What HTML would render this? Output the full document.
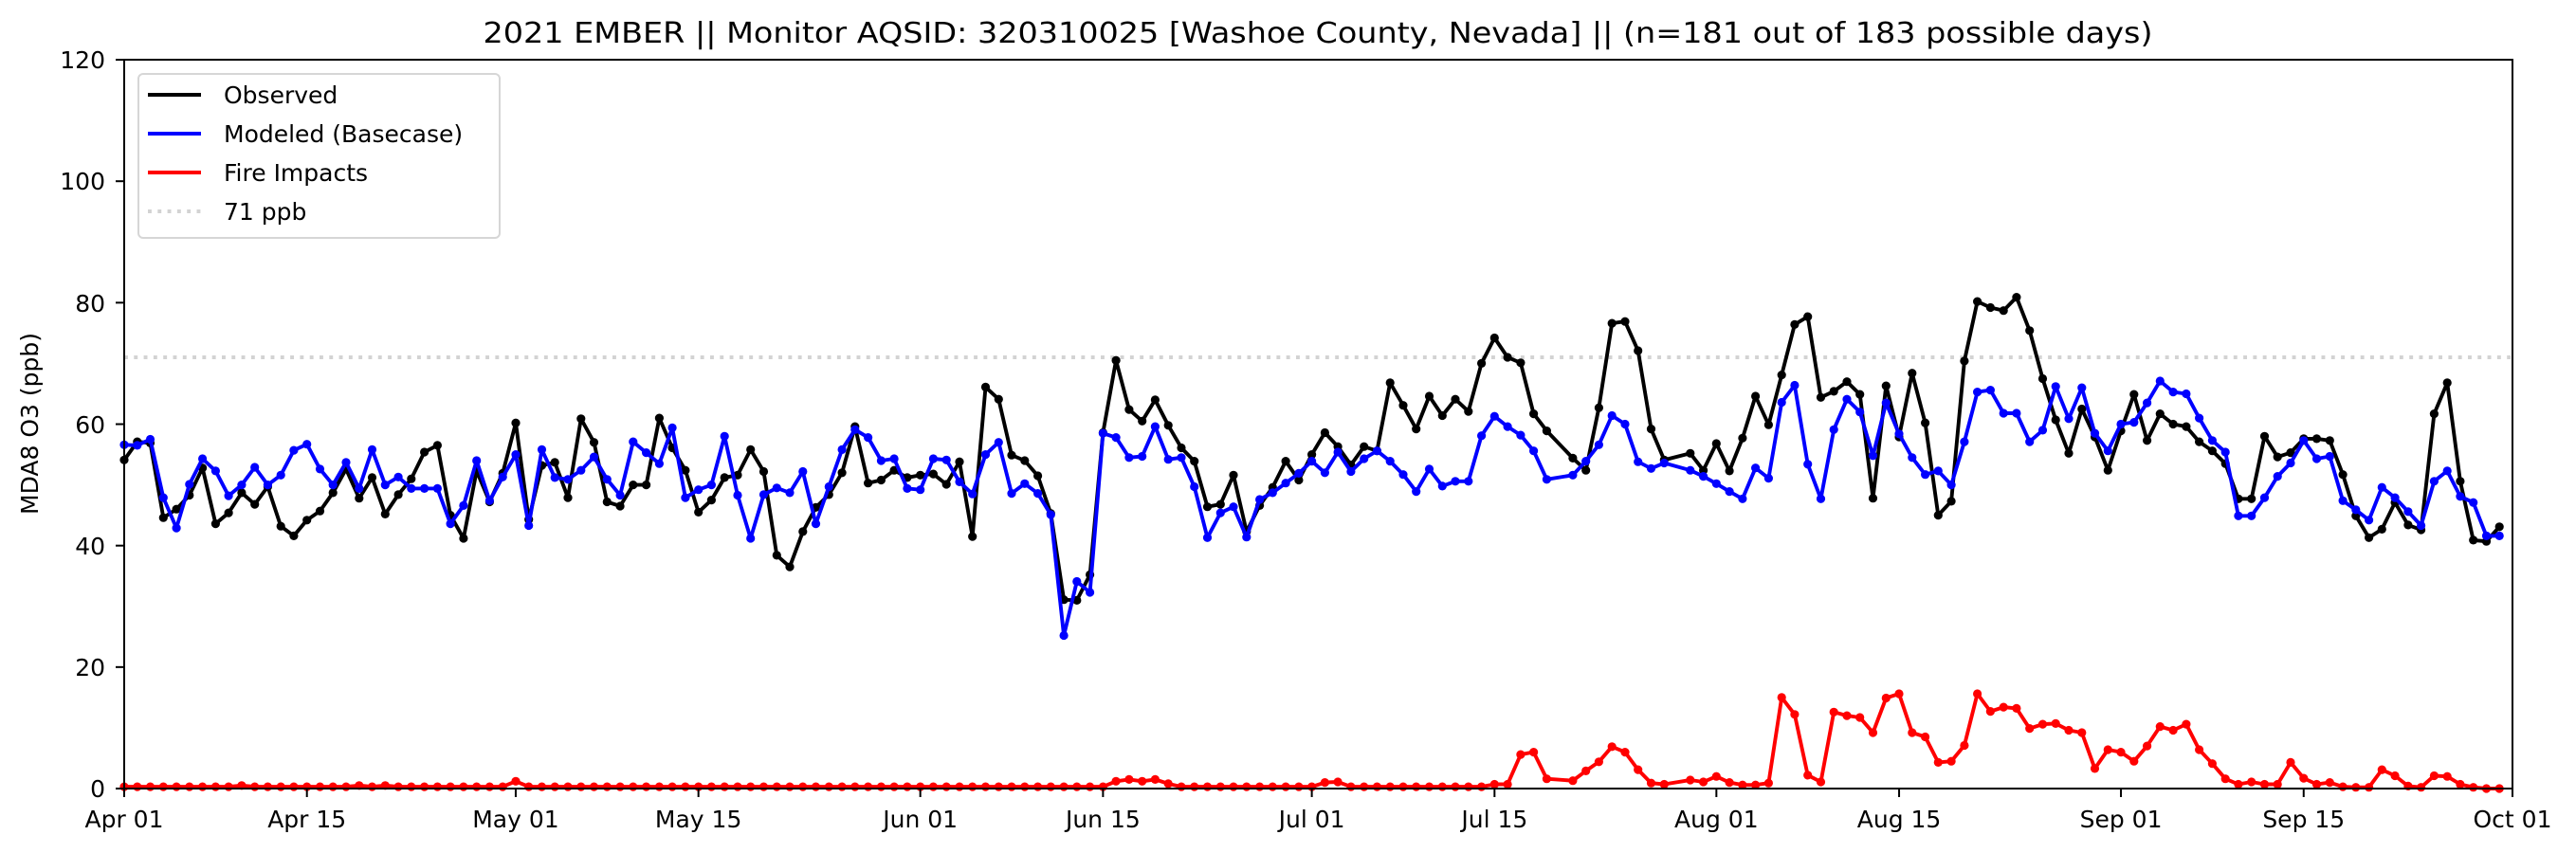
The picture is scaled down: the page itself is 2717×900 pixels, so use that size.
<!DOCTYPE html>
<html><head><meta charset="utf-8">
<style>
html,body{margin:0;padding:0;background:#fff;}
svg{display:block;}
text{font-family:"DejaVu Sans","Liberation Sans",sans-serif;fill:#000;}
</style></head>
<body>
<svg id="s" width="2717" height="900" viewBox="0 0 2717 900" xmlns="http://www.w3.org/2000/svg">
<rect width="2717" height="900" fill="#fff"/>
<text x="1390" y="45" font-size="30" text-anchor="middle" textLength="1761" lengthAdjust="spacingAndGlyphs">2021 EMBER || Monitor AQSID: 320310025 [Washoe County, Nevada] || (n=181 out of 183 possible days)</text>
<line x1="131" y1="377" x2="2650" y2="377" stroke="#d3d3d3" stroke-width="3.9" stroke-dasharray="3.9,6.4"/>
<g id="data"></g>
<g id="axes" stroke="#000" stroke-width="2">
<rect x="131" y="63" width="2519" height="769" fill="none"/>
</g>
<g id="ticks"></g>
<text transform="translate(40,447) rotate(-90)" font-size="25" text-anchor="middle">MDA8 O3 (ppb)</text>
<g>
<rect x="146" y="78" width="381" height="173" rx="5" fill="#fff" fill-opacity="0.8" stroke="#d6d6d6" stroke-width="2"/>
<line x1="156" y1="100" x2="212" y2="100" stroke="#000" stroke-width="3.9"/>
<line x1="156" y1="141" x2="212" y2="141" stroke="#0000ff" stroke-width="3.9"/>
<line x1="156" y1="182" x2="212" y2="182" stroke="#ff0000" stroke-width="3.9"/>
<line x1="156" y1="223" x2="212" y2="223" stroke="#d3d3d3" stroke-width="3.9" stroke-dasharray="3.9,6.4"/>
<text x="236" y="109" font-size="25">Observed</text>
<text x="236" y="150" font-size="25">Modeled (Basecase)</text>
<text x="236" y="191" font-size="25">Fire Impacts</text>
<text x="236" y="232" font-size="25">71 ppb</text>
</g>
<g font-size="25" text-anchor="end">
<text x="111" y="841">0</text>
<text x="111" y="713">20</text>
<text x="111" y="585">40</text>
<text x="111" y="457">60</text>
<text x="111" y="329">80</text>
<text x="111" y="200">100</text>
<text x="111" y="72">120</text>
</g>
<g id="xl" font-size="25" text-anchor="middle"></g>
</svg>
<script>
var N=null;
var obs=[54.1,57.1,56.9,44.6,46,48.3,52.8,43.6,45.4,48.7,46.8,49.7,43.2,41.6,44.2,45.7,48.7,52.6,47.8,51.2,45.2,48.4,51,55.4,56.5,45,41.2,52.3,47.2,51.9,60.2,44.3,53.2,53.7,47.9,60.9,57,47.2,46.5,50,50,61,56.1,52.4,45.5,47.5,
51.2,51.6,55.8,52.2,38.4,36.5,42.3,46.3,48.4,52,59.6,50.3,50.8,52.4,51.2,51.6,51.8,50.1,53.8,41.5,66.1,64.1,54.9,54,51.5,45.3,31.1,31,35.2,58.6,70.5,62.4,60.5,64,59.8,56.1,53.9,46.4,46.8,51.6,42.3,46.6,49.6,53.9,50.8,55,
58.6,56.3,53.3,56.3,55.6,66.8,63.1,59.2,64.6,61.4,64.1,62.1,70,74.2,71,70.1,61.7,58.9,N,54.4,52.4,62.7,76.6,76.9,72.1,59.2,54.1,N,55.2,52.4,56.8,52.3,57.7,64.6,59.9,68.1,76.4,77.7,64.4,65.4,67,64.9,47.8,66.3,57.9,68.4,60.2,
45,47.3,70.4,80.2,79.2,78.7,80.9,75.4,67.5,60.7,55.2,62.5,57.9,52.4,58.9,64.9,57.3,61.7,60,59.6,57.1,55.6,53.5,47.7,47.7,58,54.6,55.3,57.6,57.6,57.3,51.7,44.9,41.3,42.7,47.1,43.4,42.6,61.7,66.8,50.6,40.9,40.7,43.1];
var mod=[56.6,56.5,57.5,47.9,42.9,50.1,54.3,52.3,48.2,50,52.9,50,51.6,55.7,56.7,52.6,50,53.7,49.4,55.8,50,51.3,49.4,49.4,49.4,43.6,46.6,54,47.4,51.3,55,43.3,55.8,51.2,50.9,52.4,54.6,50.9,48.3,57.1,55.3,53.5,59.4,47.9,49.2,50,
58,48.3,41.2,48.4,49.5,48.7,52.2,43.6,49.7,55.8,59.1,57.8,54,54.3,49.4,49.2,54.3,54.1,50.5,48.5,55,57,48.6,50.2,48.6,45.1,25.2,34.1,32.3,58.5,57.8,54.5,54.7,59.6,54.2,54.5,49.7,41.3,45.4,46.4,41.4,47.6,48.7,50.3,51.9,53.9,
52,55.4,52.2,54.3,55.6,53.9,51.7,48.9,52.6,49.8,50.6,50.6,58.1,61.3,59.6,58.2,55.6,50.9,N,51.6,53.9,56.6,61.4,60,53.8,52.7,53.6,N,52.4,51.4,50.2,48.9,47.7,52.8,51.1,63.6,66.4,53.4,47.7,59.1,64.1,62,54.8,63.5,58.4,54.5,51.7,
52.3,50,57.1,65.3,65.6,61.8,61.8,57.1,59,66.2,60.9,66,58.5,55.6,60,60.3,63.5,67.1,65.3,65,61,57.3,55.4,44.9,44.9,47.9,51.4,53.6,57.3,54.3,54.7,47.4,45.9,44.2,49.6,47.9,45.6,43.3,50.6,52.3,48.1,47.1,41.6,41.6];
var fire=[];
for(var i=0;i<105;i++)fire.push(0.3);
fire[30]=1.2;fire[76]=1.2;fire[77]=1.5;fire[78]=1.2;fire[79]=1.5;fire[80]=0.8;fire[92]=1;fire[93]=1.1;fire[18]=0.5;fire[9]=0.5;fire[20]=0.5;
fire=fire.concat([0.7,0.7,5.6,6,1.6,N,1.3,2.9,4.4,6.9,6,3.1,0.9,0.7,N,1.4,1.1,2,1,0.6,0.6,0.9,15,12.2,2.2,1.1,12.6,12,11.7,9.2,14.9,15.6,9.2,8.5,
4.3,4.5,7.1,15.6,12.7,13.4,13.2,9.9,10.6,10.7,9.6,9.2,3.3,6.4,6,4.5,7,10.2,9.6,10.6,6.4,4.1,1.6,0.7,1.1,0.7,0.7,4.3,1.7,0.7,1,0.3,0.2,0.2,3.1,2.1,0.4,0.2,2.1,2,0.7,0.2,0,0]);
function X(d){return 131+d*2519/183;}
function Y(v){return 832-v*6.408;}
var ns="http://www.w3.org/2000/svg";
var g=document.getElementById('data');
function draw(arr,col){
  var pts=[];
  for(var i=0;i<arr.length;i++){if(arr[i]!==null)pts.push(X(i).toFixed(1)+','+Y(arr[i]).toFixed(1));}
  var pl=document.createElementNS(ns,'polyline');
  pl.setAttribute('points',pts.join(' '));
  pl.setAttribute('fill','none');pl.setAttribute('stroke',col);pl.setAttribute('stroke-width','3.9');pl.setAttribute('stroke-linejoin','round');
  g.appendChild(pl);
  for(var i=0;i<arr.length;i++){if(arr[i]===null)continue;
    var c=document.createElementNS(ns,'circle');
    c.setAttribute('cx',X(i).toFixed(1));c.setAttribute('cy',Y(arr[i]).toFixed(1));c.setAttribute('r','4.6');c.setAttribute('fill',col);
    g.appendChild(c);}
}
draw(fire,'#ff0000');
draw(obs,'#000000');
draw(mod,'#0000ff');
var t=document.getElementById('ticks');
var xl=document.getElementById('xl');
var labs=['Apr 01','Apr 15','May 01','May 15','Jun 01','Jun 15','Jul 01','Jul 15','Aug 01','Aug 15','Sep 01','Sep 15','Oct 01'];
[0,14,30,44,61,75,91,105,122,136,153,167,183].forEach(function(d,k){
  var l=document.createElementNS(ns,'line');l.setAttribute('x1',X(d));l.setAttribute('x2',X(d));l.setAttribute('y1',832);l.setAttribute('y2',841);l.setAttribute('stroke','#000');l.setAttribute('stroke-width','2');t.appendChild(l);
  var tx=document.createElementNS(ns,'text');tx.setAttribute('x',X(d));tx.setAttribute('y',873);tx.textContent=labs[k];xl.appendChild(tx);});
[0,20,40,60,80,100,120].forEach(function(v){
  var l=document.createElementNS(ns,'line');l.setAttribute('x1',122);l.setAttribute('x2',131);l.setAttribute('y1',Y(v));l.setAttribute('y2',Y(v));l.setAttribute('stroke','#000');l.setAttribute('stroke-width','2');t.appendChild(l);});
</script>
</body></html>
